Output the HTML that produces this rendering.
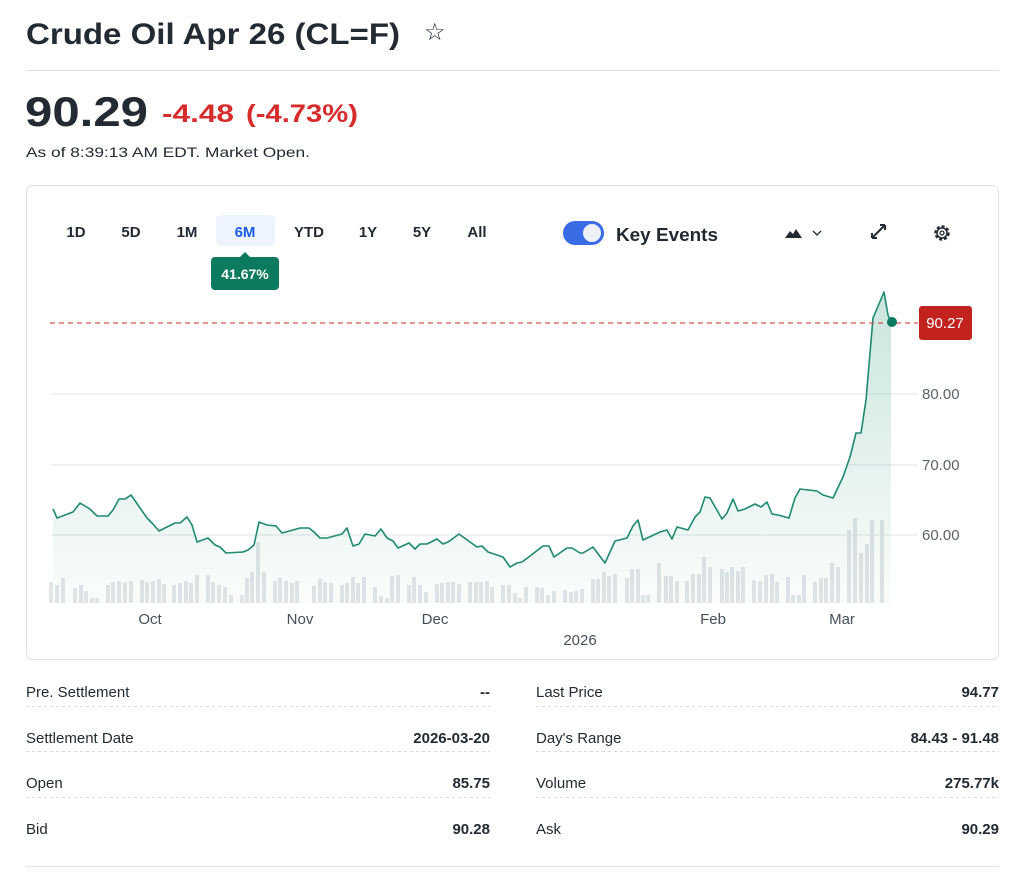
<!DOCTYPE html>
<html><head><meta charset="utf-8"><style>
html,body{margin:0;padding:0;background:#fff;}
svg{display:block;font-family:"Liberation Sans",sans-serif;}
</style></head><body>
<svg width="1024" height="889" viewBox="0 0 1024 889" xmlns="http://www.w3.org/2000/svg">
<defs>
<linearGradient id="g" x1="0" y1="0" x2="0" y2="1">
<stop offset="0" stop-color="#0f8a68" stop-opacity="0.22"/>
<stop offset="1" stop-color="#0f8a68" stop-opacity="0.02"/>
</linearGradient>
</defs>
<!-- header -->
<text x="26" y="44" font-size="30" font-weight="bold" fill="#232a31" textLength="374" lengthAdjust="spacingAndGlyphs">Crude Oil Apr 26 (CL=F)</text>
<text x="424" y="40" font-size="24" fill="#232a31">☆</text>
<line x1="26" y1="70.5" x2="999" y2="70.5" stroke="#e0e3e8" stroke-width="1"/>
<text x="25" y="126" font-size="42" font-weight="bold" fill="#232a31" textLength="123" lengthAdjust="spacingAndGlyphs">90.29</text>
<text x="162" y="122" font-size="25" font-weight="bold" fill="#d72c2c" textLength="72" lengthAdjust="spacingAndGlyphs">-4.48</text>
<text x="246" y="122" font-size="25" font-weight="bold" fill="#d72c2c" textLength="112" lengthAdjust="spacingAndGlyphs">(-4.73%)</text>
<text x="26" y="157" font-size="14" fill="#232a31" textLength="284" lengthAdjust="spacingAndGlyphs">As of 8:39:13 AM EDT. Market Open.</text>

<!-- card -->
<rect x="26.5" y="185.5" width="972" height="474" rx="6" fill="#fff" stroke="#e0e3e8"/>
<rect x="216" y="215" width="59" height="31" rx="5" fill="#eef4fd"/>
<g font-size="15" fill="#232a31" font-weight="bold" text-anchor="middle">
<text x="76" y="237">1D</text><text x="131" y="237">5D</text><text x="187" y="237">1M</text>
<text x="245" y="237" fill="#1a5ee6">6M</text><text x="309" y="237">YTD</text>
<text x="368" y="237">1Y</text><text x="422" y="237">5Y</text><text x="477" y="237">All</text>
</g>
<path d="M240 257 L245 252 L250 257 Z" fill="#0b7a5e"/>
<rect x="211" y="257" width="68" height="33" rx="4" fill="#0b7a5e"/>
<text x="245" y="279" font-size="14" font-weight="bold" fill="#fff" text-anchor="middle">41.67%</text>

<rect x="563" y="221" width="41" height="24" rx="12" fill="#3a6ce5"/>
<circle cx="592" cy="233" r="9" fill="#eef1f7"/>
<text x="616" y="241" font-size="18" font-weight="bold" fill="#232a31" textLength="102" lengthAdjust="spacingAndGlyphs">Key Events</text>
<path d="M785 238 L790 231 L793 234 L796 229 L802 238 Z" fill="#232a31"/>
<path d="M813 231 L817 235 L821 231" fill="none" stroke="#232a31" stroke-width="1.3"/>
<path d="M872 238 L885 225 M872 238 L872 233 M872 238 L877 238 M885 225 L880 225 M885 225 L885 230" stroke="#232a31" stroke-width="2" fill="none"/>
<circle cx="942" cy="233" r="6.5" fill="none" stroke="#232a31" stroke-width="2.4" stroke-dasharray="3 2"/>
<circle cx="942" cy="233" r="5" fill="none" stroke="#232a31" stroke-width="1.5"/>
<circle cx="942" cy="233" r="2" fill="none" stroke="#232a31" stroke-width="1.3"/>

<!-- grid -->
<g stroke="#e3e5e9" stroke-width="1">
<line x1="51" y1="394" x2="918" y2="394"/>
<line x1="51" y1="465" x2="918" y2="465"/>
<line x1="51" y1="535" x2="918" y2="535"/>
</g>
<g font-size="15" fill="#5b636a">
<text x="922" y="399">80.00</text><text x="922" y="470">70.00</text><text x="922" y="540">60.00</text>
</g>

<!-- volume bars -->
<g fill="#e3e5e8" id="bars"></g>
<g fill="#e3e5e8">
<rect x="49" y="582" width="4" height="21"/><rect x="55" y="585" width="4" height="18"/><rect x="61" y="578" width="4" height="25"/><rect x="73" y="588" width="4" height="15"/><rect x="79" y="585" width="4" height="18"/><rect x="84" y="591" width="4" height="12"/><rect x="90" y="598" width="4" height="5"/><rect x="95" y="598" width="4" height="5"/><rect x="106" y="585" width="4" height="18"/><rect x="111" y="582" width="4" height="21"/><rect x="117" y="581" width="4" height="22"/><rect x="123" y="582" width="4" height="21"/><rect x="129" y="581" width="4" height="22"/><rect x="140" y="580" width="4" height="23"/><rect x="145" y="582" width="4" height="21"/><rect x="151" y="581" width="4" height="22"/><rect x="157" y="579" width="4" height="24"/><rect x="162" y="584" width="4" height="19"/><rect x="172" y="585" width="4" height="18"/><rect x="178" y="583" width="4" height="20"/><rect x="184" y="581" width="4" height="22"/><rect x="189" y="583" width="4" height="20"/><rect x="195" y="575" width="4" height="28"/><rect x="206" y="575" width="4" height="28"/><rect x="211" y="582" width="4" height="21"/><rect x="217" y="585" width="4" height="18"/><rect x="223" y="587" width="4" height="16"/><rect x="229" y="595" width="4" height="8"/><rect x="240" y="595" width="4" height="8"/><rect x="245" y="578" width="4" height="25"/><rect x="250" y="572" width="4" height="31"/><rect x="256" y="542" width="4" height="61"/><rect x="262" y="572" width="4" height="31"/><rect x="273" y="581" width="4" height="22"/><rect x="278" y="578" width="4" height="25"/><rect x="284" y="581" width="4" height="22"/><rect x="290" y="583" width="4" height="20"/><rect x="295" y="581" width="4" height="22"/><rect x="312" y="586" width="4" height="17"/><rect x="318" y="579" width="4" height="24"/><rect x="323" y="582" width="4" height="21"/><rect x="329" y="583" width="4" height="20"/><rect x="340" y="585" width="4" height="18"/><rect x="345" y="583" width="4" height="20"/><rect x="351" y="577" width="4" height="26"/><rect x="356" y="583" width="4" height="20"/><rect x="362" y="577" width="4" height="26"/><rect x="373" y="587" width="4" height="16"/><rect x="379" y="596" width="4" height="7"/><rect x="385" y="598" width="4" height="5"/><rect x="390" y="576" width="4" height="27"/><rect x="396" y="575" width="4" height="28"/><rect x="407" y="585" width="4" height="18"/><rect x="412" y="577" width="4" height="26"/><rect x="418" y="585" width="4" height="18"/><rect x="424" y="592" width="4" height="11"/><rect x="435" y="584" width="4" height="19"/><rect x="440" y="583" width="4" height="20"/><rect x="446" y="582" width="4" height="21"/><rect x="451" y="582" width="4" height="21"/><rect x="457" y="584" width="4" height="19"/><rect x="468" y="582" width="4" height="21"/><rect x="474" y="582" width="4" height="21"/><rect x="479" y="582" width="4" height="21"/><rect x="485" y="581" width="4" height="22"/><rect x="490" y="587" width="4" height="16"/><rect x="501" y="585" width="4" height="18"/><rect x="507" y="585" width="4" height="18"/><rect x="513" y="593" width="4" height="10"/><rect x="518" y="598" width="4" height="5"/><rect x="524" y="587" width="4" height="16"/><rect x="535" y="587" width="4" height="16"/><rect x="540" y="588" width="4" height="15"/><rect x="546" y="595" width="4" height="8"/><rect x="552" y="591" width="4" height="12"/><rect x="563" y="590" width="4" height="13"/><rect x="569" y="592" width="4" height="11"/><rect x="574" y="591" width="4" height="12"/><rect x="580" y="589" width="4" height="14"/><rect x="591" y="579" width="4" height="24"/><rect x="596" y="579" width="4" height="24"/><rect x="602" y="572" width="4" height="31"/><rect x="607" y="576" width="4" height="27"/><rect x="613" y="574" width="4" height="29"/><rect x="625" y="578" width="4" height="25"/><rect x="630" y="569" width="4" height="34"/><rect x="636" y="569" width="4" height="34"/><rect x="641" y="595" width="4" height="8"/><rect x="646" y="595" width="4" height="8"/><rect x="657" y="563" width="4" height="40"/><rect x="664" y="576" width="4" height="27"/><rect x="669" y="576" width="4" height="27"/><rect x="675" y="581" width="4" height="22"/><rect x="685" y="581" width="4" height="22"/><rect x="691" y="574" width="4" height="29"/><rect x="697" y="574" width="4" height="29"/><rect x="702" y="557" width="4" height="46"/><rect x="708" y="567" width="4" height="36"/><rect x="720" y="569" width="4" height="34"/><rect x="725" y="572" width="4" height="31"/><rect x="730" y="567" width="4" height="36"/><rect x="736" y="571" width="4" height="32"/><rect x="741" y="567" width="4" height="36"/><rect x="752" y="580" width="4" height="23"/><rect x="758" y="581" width="4" height="22"/><rect x="764" y="575" width="4" height="28"/><rect x="770" y="574" width="4" height="29"/><rect x="775" y="582" width="4" height="21"/><rect x="786" y="577" width="4" height="26"/><rect x="791" y="595" width="4" height="8"/><rect x="797" y="595" width="4" height="8"/><rect x="802" y="575" width="4" height="28"/><rect x="813" y="582" width="4" height="21"/><rect x="819" y="578" width="4" height="25"/><rect x="824" y="578" width="4" height="25"/><rect x="830" y="563" width="4" height="40"/><rect x="836" y="567" width="4" height="36"/><rect x="847" y="530" width="4" height="73"/><rect x="853" y="518" width="4" height="85"/><rect x="859" y="553" width="4" height="50"/><rect x="865" y="544" width="4" height="59"/><rect x="870" y="520" width="4" height="83"/><rect x="880" y="520" width="4" height="83"/>
</g>

<!-- area + line -->
<path id="area" fill="url(#g)" d="M53 509 L57 518 L73 512 L80 503 L90 509 L97 516 L108 516 L113 510 L119 499 L125 499 L131 495 L147 518 L152 523 L159 531 L175 523 L180 523 L187 517 L192 525 L197 542 L208 538 L215 545 L220 547 L226 553 L243 552 L248 550 L254 545 L259 522 L267 525 L276 526 L282 533 L293 530 L300 528 L309 528 L314 532 L320 538 L327 538 L342 534 L347 528 L353 546 L359 544 L365 534 L375 536 L381 529 L387 538 L393 541 L398 548 L409 543 L415 549 L420 544 L427 544 L437 539 L443 544 L448 542 L459 534 L470 542 L477 547 L482 546 L488 552 L503 557 L510 567 L517 563 L522 562 L530 556 L543 546 L549 546 L554 557 L567 548 L572 548 L580 553 L583 553 L593 547 L605 563 L615 541 L627 538 L633 526 L638 520 L643 540 L660 532 L667 530 L672 539 L677 527 L688 530 L695 517 L700 512 L705 497 L710 498 L722 519 L727 513 L733 499 L738 511 L745 509 L755 504 L761 507 L767 502 L772 514 L778 515 L789 518 L795 498 L800 489 L817 491 L823 495 L833 498 L843 477 L850 457 L856 433 L861 433 L866 400 L873 318 L884 292 L888 315 L891 323 L891 603 L53 603 Z"/>
<path fill="none" stroke="#1e8a6e" stroke-width="1.6" stroke-linejoin="round" d="M53 509 L57 518 L73 512 L80 503 L90 509 L97 516 L108 516 L113 510 L119 499 L125 499 L131 495 L147 518 L152 523 L159 531 L175 523 L180 523 L187 517 L192 525 L197 542 L208 538 L215 545 L220 547 L226 553 L243 552 L248 550 L254 545 L259 522 L267 525 L276 526 L282 533 L293 530 L300 528 L309 528 L314 532 L320 538 L327 538 L342 534 L347 528 L353 546 L359 544 L365 534 L375 536 L381 529 L387 538 L393 541 L398 548 L409 543 L415 549 L420 544 L427 544 L437 539 L443 544 L448 542 L459 534 L470 542 L477 547 L482 546 L488 552 L503 557 L510 567 L517 563 L522 562 L530 556 L543 546 L549 546 L554 557 L567 548 L572 548 L580 553 L583 553 L593 547 L605 563 L615 541 L627 538 L633 526 L638 520 L643 540 L660 532 L667 530 L672 539 L677 527 L688 530 L695 517 L700 512 L705 497 L710 498 L722 519 L727 513 L733 499 L738 511 L745 509 L755 504 L761 507 L767 502 L772 514 L778 515 L789 518 L795 498 L800 489 L817 491 L823 495 L833 498 L843 477 L850 457 L856 433 L861 433 L866 400 L873 318 L884 292 L888 315 L891 323"/>
<line x1="50" y1="323" x2="918" y2="323" stroke="#d9534f" stroke-width="1.2" stroke-dasharray="5 4"/>
<circle cx="892" cy="322" r="5" fill="#0b7a5e"/>
<rect x="919" y="306" width="53" height="34" rx="3" fill="#c2231f"/>
<text x="945" y="328" font-size="15" fill="#fff" text-anchor="middle">90.27</text>

<g font-size="15" fill="#464e56" text-anchor="middle">
<text x="150" y="624">Oct</text><text x="300" y="624">Nov</text><text x="435" y="624">Dec</text>
<text x="713" y="624">Feb</text><text x="842" y="624">Mar</text><text x="580" y="645">2026</text>
</g>

<!-- stats -->
<g font-size="15" fill="#232a31">
<text x="26" y="697">Pre. Settlement</text><text x="26" y="743">Settlement Date</text>
<text x="26" y="788">Open</text><text x="26" y="834">Bid</text>
<text x="536" y="697">Last Price</text><text x="536" y="743">Day's Range</text>
<text x="536" y="788">Volume</text><text x="536" y="834">Ask</text>
</g>
<g font-size="15" font-weight="bold" fill="#232a31" text-anchor="end">
<text x="490" y="697">--</text><text x="490" y="743">2026-03-20</text>
<text x="490" y="788">85.75</text><text x="490" y="834">90.28</text>
<text x="999" y="697">94.77</text><text x="999" y="743">84.43 - 91.48</text>
<text x="999" y="788">275.77k</text><text x="999" y="834">90.29</text>
</g>
<g stroke="#d6d9dd" stroke-width="1" stroke-dasharray="3 3">
<line x1="26" y1="706.5" x2="490" y2="706.5"/><line x1="26" y1="751.5" x2="490" y2="751.5"/><line x1="26" y1="797.5" x2="490" y2="797.5"/>
<line x1="536" y1="706.5" x2="999" y2="706.5"/><line x1="536" y1="751.5" x2="999" y2="751.5"/><line x1="536" y1="797.5" x2="999" y2="797.5"/>
</g>
<line x1="26" y1="866.5" x2="999" y2="866.5" stroke="#e0e3e8" stroke-width="1"/>
</svg>
</body></html>
